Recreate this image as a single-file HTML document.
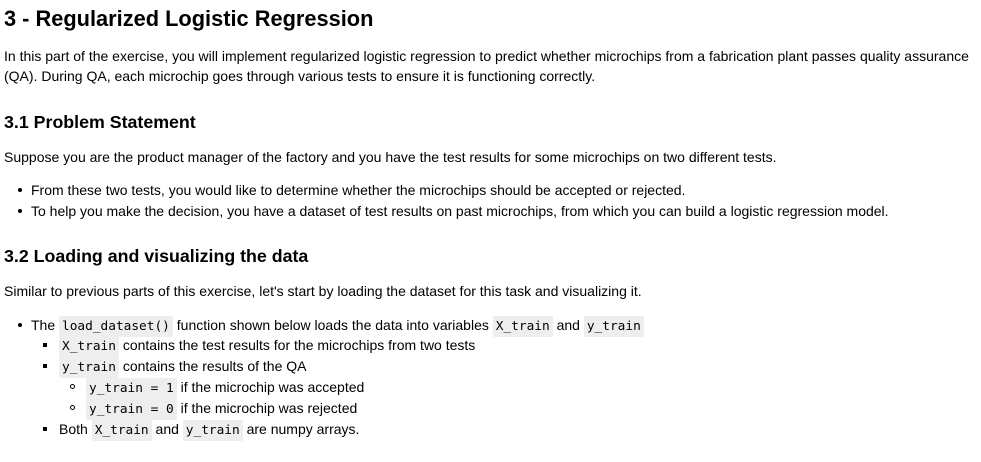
<!DOCTYPE html>
<html><head><meta charset="utf-8"><style>
body{margin:0;width:981px;height:462px;background:#fff;font-family:"Liberation Sans",Arial,sans-serif;color:#000;position:relative;overflow:hidden}
.l{position:absolute;white-space:nowrap;font-size:14px;line-height:20px}
h1,h3{position:absolute;margin:0;white-space:nowrap;font-weight:bold}
h1{font-size:21.8px;left:4px;top:6px}
h3{font-size:17.8px;left:4px}
code{font-family:"DejaVu Sans Mono","Liberation Mono",monospace;font-size:12.8px;background:#eeeeee;padding:3px 3px;border-radius:2px}
.b{position:absolute;width:4px;height:4px;background:#000;border-radius:50%}
.s{position:absolute;width:4px;height:4px;background:#000}
.c{position:absolute;width:3px;height:3px;border:1px solid #000;border-radius:50%}
</style></head><body>
<h1>3 - Regularized Logistic Regression</h1>
<div class="l" style="left:4px;top:46px;line-height:20px">In this part of the exercise, you will implement regularized logistic regression to predict whether microchips from a fabrication plant passes quality assurance<br>(QA). During QA, each microchip goes through various tests to ensure it is functioning correctly.</div>
<h3 style="top:112px">3.1 Problem Statement</h3>
<div class="l" style="left:4px;top:147px">Suppose you are the product manager of the factory and you have the test results for some microchips on two different tests.</div>
<div class="b" style="left:18px;top:188px"></div>
<div class="l" style="left:31px;top:180px">From these two tests, you would like to determine whether the microchips should be accepted or rejected.</div>
<div class="b" style="left:18px;top:209px"></div>
<div class="l" style="left:31px;top:201px">To help you make the decision, you have a dataset of test results on past microchips, from which you can build a logistic regression model.</div>
<h3 style="top:246px">3.2 Loading and visualizing the data</h3>
<div class="l" style="left:4px;top:281px">Similar to previous parts of this exercise, let's start by loading the dataset for this task and visualizing it.</div>
<div class="b" style="left:18px;top:323px"></div>
<div class="l" style="left:31px;top:315px">The <code>load_dataset()</code> function shown below loads the data into variables <code>X_train</code> and <code>y_train</code></div>
<div class="s" style="left:43px;top:343px"></div>
<div class="l" style="left:59px;top:335px"><code>X_train</code> contains the test results for the microchips from two tests</div>
<div class="s" style="left:43px;top:364px"></div>
<div class="l" style="left:59px;top:356px"><code>y_train</code> contains the results of the QA</div>
<div class="c" style="left:70px;top:384px"></div>
<div class="l" style="left:86px;top:377px"><code>y_train = 1</code> if the microchip was accepted</div>
<div class="c" style="left:70px;top:405px"></div>
<div class="l" style="left:86px;top:398px"><code>y_train = 0</code> if the microchip was rejected</div>
<div class="s" style="left:43px;top:427px"></div>
<div class="l" style="left:59px;top:419px">Both <code>X_train</code> and <code>y_train</code> are numpy arrays.</div>
</body></html>
